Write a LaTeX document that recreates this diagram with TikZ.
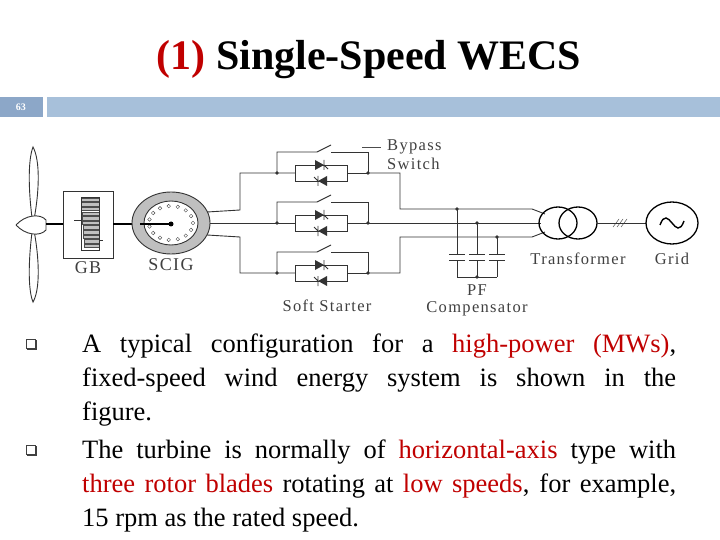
\documentclass[tikz,border=0pt]{standalone}
\usepackage{fontspec}
\setmainfont{Liberation Serif}
\newfontfamily\lblfont[LetterSpace=8]{Liberation Serif}
\newcommand\nohyph{\hyphenpenalty=10000 \exhyphenpenalty=10000 }
\begin{document}
\begin{tikzpicture}[x=1pt,y=-1pt,
  wire/.style={line width=0.9pt,black!80},
  dotj/.style={circle,fill=black!80,inner sep=1.3pt},
  lbl/.style={font=\lblfont\fontsize{16.5}{18}\selectfont,text=black!75,inner sep=1pt},
  body/.style={font=\fontsize{26.5}{33.6}\selectfont,text width=594pt,align=justify,anchor=north west,inner sep=0pt}]
\definecolor{rd}{RGB}{192,0,0}
\useasboundingbox (0,0) rectangle (720,540);
\fill[white] (0,0) rectangle (720,540);
% title
\node (title) at (369,60) {\fontsize{42}{46}\selectfont\bfseries{\color{rd}(1)} Single-Speed WECS};
% header bar
\fill[fill={rgb,255:red,140;green,167;blue,200}] (0,97) rectangle (43,117);
\fill[fill={rgb,255:red,167;green,192;blue,218}] (47,97) rectangle (720,117);
\node[text=white,font=\fontsize{10}{10}\selectfont\bfseries] (pg) at (21,107) {63};
% turbine
\draw[wire,fill=white] (33,225) .. controls (40,190) and (40,160) .. (33,147) .. controls (28,160) and (28,190) .. (33,225);
\draw[wire,fill=white] (33,225) .. controls (40,260) and (40,290) .. (33,302) .. controls (28,290) and (28,260) .. (33,225);
\draw[wire,fill=white] (16,225) .. controls (25,215) and (40,213) .. (46,220) -- (46,230) .. controls (40,237) and (25,235) .. (16,225);
\draw[line width=2pt] (46,224) -- (63,224);
% GB
\draw[wire] (63,191) rectangle (113,258);
\draw[line width=2pt] (113,224) -- (140,224);
\foreach \i in {0,...,10} {\draw[black!70,fill=black!25] (81+\i*0.3,198+\i*4.6) rectangle (99,201.5+\i*4.6);}
\draw[wire] (81,197) rectangle (99,250);
\draw[wire] (99,240) -- (103,240);
\draw[wire] (74,220) -- (81,220);
% SCIG
\draw[wire,fill=black!25] (171,223) ellipse (39 and 31);
\draw[wire,fill=white] (171,223) ellipse (27 and 22);
\foreach \a in {0,24,...,336} {\draw[black!70] (171,223)+(\a:22 and 17) circle (1.8);}
\draw[line width=1.5pt] (140,224) -- (171,224);
\fill (171,224) circle (2.5);
% outputs
\draw[wire] (207,212) -- (240,210) -- (240,173) -- (295,173);
\draw[wire] (210,223) -- (295,223);
\draw[wire] (207,235) -- (240,237) -- (240,273) -- (295,273);
\foreach \y [count=\k] in {173,223,273} {
  \coordinate (ja\k) at (277,\y);
  \coordinate (jb\k) at (368,\y);
  \draw[wire] (295,\y-8) rectangle (347,\y+8);
  \draw[wire] (347,\y) -- (368,\y);
  \fill[black!80] (315,\y-13) -- (315,\y-3) -- (324,\y-8) -- cycle;
  \draw[wire] (324,\y-13) -- (324,\y-3) (324,\y-8) -- (328,\y-4);
  \fill[black!80] (327,\y+3) -- (327,\y+13) -- (318,\y+8) -- cycle;
  \draw[wire] (318,\y+3) -- (318,\y+13) (318,\y+8) -- (314,\y+4);
  \draw[wire] (ja\k) -- (277,\y-21) -- (317,\y-21) -- (331,\y-28);
  \draw[wire] (331,\y-21) -- (368,\y-21) -- (jb\k);
  \node[dotj] (da\k) at (ja\k) {};
  \node[dotj] (db\k) at (jb\k) {};
}
\draw[wire] (jb1) -- (400,173) -- (400,209) -- (532,209) -- (545,214);
\draw[wire] (jb2) -- (541,223);
\draw[wire] (jb3) -- (400,273) -- (400,237) -- (532,237) -- (545,232);
% capacitors
\foreach \x/\y in {457/209,477/223,497/237} {
  \draw[wire] (\x,\y) -- (\x,254) (\x-8,254) -- (\x+8,254) (\x-8,260) -- (\x+8,260) (\x,260) -- (\x,277);
  \node[dotj] at (\x,\y) {};
}
\draw[wire] (457,277) -- (497,277);
\node[dotj] (cb) at (477,277) {};
% transformer
\draw[line width=1.3pt] (558,223) circle (19 and 16);
\draw[line width=1.3pt] (578,223) circle (19 and 16);
\draw[wire] (597,223) -- (646,223);
\foreach \d in {-4,0,4} {\draw[black!80] (617+\d,227) -- (623+\d,219);}
% grid
\draw[line width=1.3pt] (672,223) ellipse (26 and 21);
\draw[line width=1.4pt] (660,225) .. controls (664,214) and (668,218) .. (672,223) .. controls (676,228) and (680,232) .. (684,221);
% labels
\node[lbl,anchor=west] (bp1) at (386,147) {Bypass};
\node[lbl,anchor=west] (bp2) at (386,164) {Switch};
\draw[black!70] (362,147) -- (381,147);
\node[lbl] (gb) at (88,268) {\fontsize{18}{18}\selectfont GB};
\node[lbl] (scig) at (171,265) {\fontsize{18}{18}\selectfont SCIG};
\node[lbl] (ss) at (327,306) {Soft Starter};
\node[lbl] (pf1) at (477,290) {PF};
\node[lbl] (pf2) at (477,309) {Compensator};
\node[lbl] (tr) at (578,259) {Transformer};
\node[lbl] (gr) at (672,259) {Grid};
% bullets
\foreach \y in {344,450} {\draw[black!75,line width=0.7pt] (26,\y-5) rectangle (35,\y+4); \draw[black!75,line width=1.2pt] (27,\y+5) -- (36,\y+5) -- (36,\y-4);}
\node[body] (t1) at (82,334) {\nohyph A typical configuration for a {\color{rd}high-power (MWs)}, \mbox{fixed-speed} wind energy system is shown in the\linebreak figure.};
\node[body] (t2) at (82,440) {\nohyph The turbine is normally of {\color{rd}horizontal-axis} type with {\color{rd}three rotor blades} rotating at {\color{rd}low speeds}, for example, \linebreak 15 rpm as the rated speed.};
\end{tikzpicture}
\end{document}
